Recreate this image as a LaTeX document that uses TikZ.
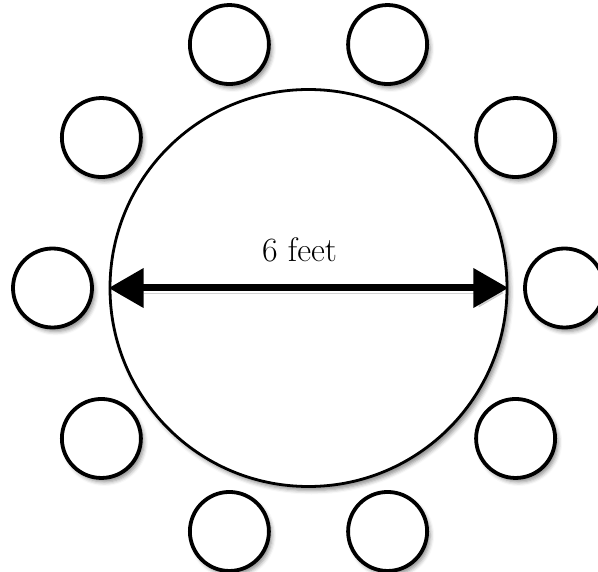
\documentclass[tikz,border=0pt]{standalone}
\usepackage{fontspec}
\usetikzlibrary{
    arrows.meta,
    shadows.blur
}
\tikzset {
    soft shadow/.style = {
        blur shadow = {shadow xshift=3pt,shadow yshift=-4pt,shadow blur radius=4pt,shadow opacity=45}
    },
    table/.style = {circle, draw, fill = white, line width = 2.8pt,
        minimum size = 397pt, inner sep = 0pt, soft shadow},
    chair/.style = {circle, draw, fill = white, line width = 3.8pt,
        minimum size = 79pt, inner sep = 0pt, soft shadow},
    %
    span arrow/.style = {
        line width = 7pt,
        arrows = {Triangle[length = 35pt, width = 38pt]-Triangle[length = 35pt, width = 38pt]},
        preaction = {draw, black!35, opacity = .5, transform canvas = {shift = {(2pt, -5pt)}}}
    },
    size label/.style = {inner sep = 0pt, font = \fontsize{34}{38}\selectfont}
}

\begin{document}
\begin{tikzpicture}[x = 1pt, y = -1pt]
            \useasboundingbox (0, 0) rectangle (598, 572);
            \node (table) [table] at (308.5, 288) {};
            \foreach \i in {0, ..., 9} {
                \node (chair\i) [chair] at ([shift = {(\i*36:256)}] table.center) {};
            }
            \draw [span arrow] (table.west) -- (table.east);
            \node (feet) [size label] at (299.5, 250) {6 feet};
        \end{tikzpicture}
\end{document}
